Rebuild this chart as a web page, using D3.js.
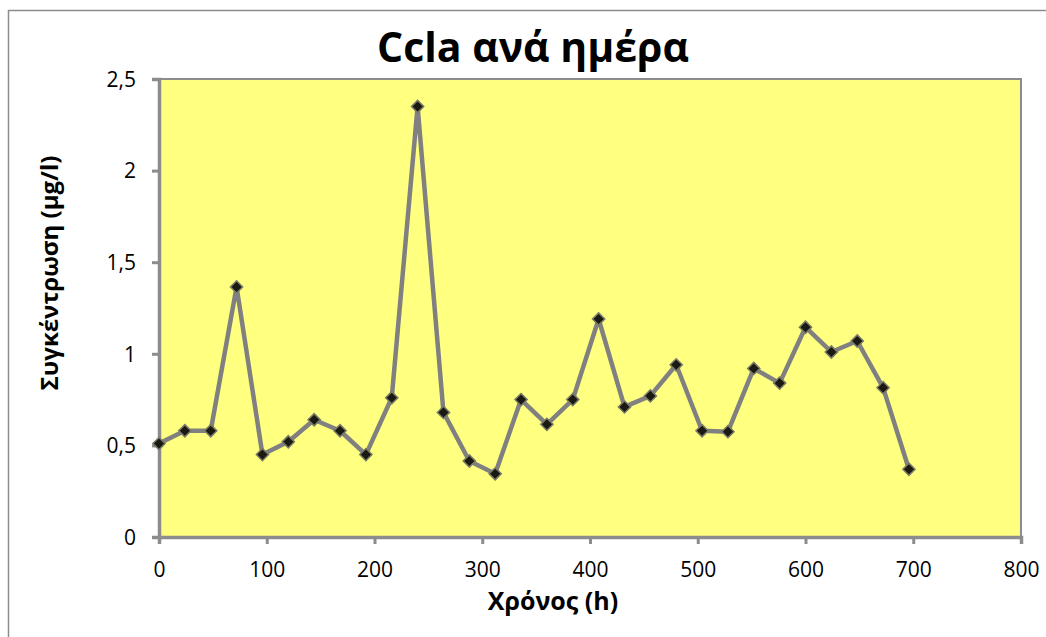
<!DOCTYPE html>
<html>
<head>
<meta charset="utf-8">
<script src="https://cdn.jsdelivr.net/npm/d3@7"></script>
<style>
  html, body { margin: 0; padding: 0; background: #ffffff; }
  svg { display: block; }
  text { font-family: "Open Sans", "Noto Sans", sans-serif; fill: #000; }
</style>
</head>
<body>
<svg id="chart" width="1046" height="637"></svg>
<script>
// Sampling times (h) and Ccla concentration (μg/l)
const hours = [0, 24, 48, 72, 96, 120, 144, 168, 192, 216, 240, 264, 288, 312, 336,
               360, 384, 408, 432, 456, 480, 504, 528, 552, 576, 600, 624, 648, 672, 696];
const ccla = [0.51, 0.58, 0.58, 1.365, 0.45, 0.52, 0.64, 0.58, 0.45, 0.76, 2.35, 0.68, 0.415, 0.345, 0.75,
              0.615, 0.75, 1.19, 0.71, 0.77, 0.94, 0.58, 0.575, 0.92, 0.84, 1.145, 1.01, 1.07, 0.815, 0.37];
const xTicks = [0, 100, 200, 300, 400, 500, 600, 700, 800];
const yTicks = [0, 0.5, 1, 1.5, 2, 2.5];

const titleText = "Ccla ανά ημέρα";
const xTitle = "Χρόνος (h)";
const yTitle = "Συγκέντρωση (μg/l)";

const svg = d3.select("#chart");
const plot = { left: 159, right: 1021, top: 79, bottom: 537 };

const x = d3.scaleLinear().domain([0, 800]).range([plot.left, plot.right]);
const y = d3.scaleLinear().domain([0, 2.5]).range([plot.bottom, plot.top]);

// Outer chart frame
svg.append("rect")
  .attr("x", 8.5).attr("y", 10.5)
  .attr("width", 1100).attr("height", 700)
  .attr("fill", "#fff").attr("stroke", "#8c8c8c").attr("stroke-width", 1.5);

// Plot area background
svg.append("rect")
  .attr("x", plot.left).attr("y", plot.top)
  .attr("width", plot.right - plot.left).attr("height", plot.bottom - plot.top)
  .attr("fill", "#ffff80")
  .attr("stroke", "#8c8c8c").attr("stroke-width", 2);

const fmt = d => d3.format("")(d).replace(".", ",");

// Axes
const xAxis = svg.append("g")
  .attr("transform", `translate(0,${plot.bottom})`)
  .call(d3.axisBottom(x).tickValues(xTicks).tickFormat(fmt).tickSize(7).tickPadding(17));
const yAxis = svg.append("g")
  .attr("transform", `translate(${plot.left},0)`)
  .call(d3.axisLeft(y).tickValues(yTicks).tickFormat(fmt).tickSize(7).tickPadding(16));

[xAxis, yAxis].forEach(g => {
  g.select(".domain").attr("stroke", "#8c8c8c").attr("stroke-width", 3.5);
  g.selectAll(".tick line").attr("stroke", "#8c8c8c").attr("stroke-width", 3);
  g.selectAll(".tick text").attr("font-size", 21).attr("fill", "#000")
    .style("font-family", "'Open Sans', 'Noto Sans', sans-serif");
});
yAxis.selectAll(".tick text").attr("dy", "0.35em");
xAxis.selectAll(".tick text").attr("dy", "0.75em");

// Series line
const line = d3.line().x((d, i) => x(hours[i])).y(d => y(d));
svg.append("path")
  .datum(ccla)
  .attr("d", line)
  .attr("fill", "none")
  .attr("stroke", "#808080")
  .attr("stroke-width", 4.5)
  .attr("stroke-linejoin", "round");

// Diamond markers
const diamond = d3.symbol().type(d3.symbolDiamond2).size(95);
svg.append("g").selectAll("path")
  .data(ccla)
  .join("path")
  .attr("d", diamond)
  .attr("transform", (d, i) => `translate(${x(hours[i])},${y(d)})`)
  .attr("fill", "#1a1a12")
  .attr("stroke", "#7a7a6a")
  .attr("stroke-width", 1.5);

// Titles
svg.append("text")
  .attr("x", 533).attr("y", 62)
  .attr("text-anchor", "middle")
  .attr("font-size", 41).attr("font-weight", "bold")
  .text(titleText);

svg.append("text")
  .attr("x", 553).attr("y", 610)
  .attr("text-anchor", "middle")
  .attr("font-size", 25).attr("font-weight", "bold")
  .text(xTitle);

svg.append("text")
  .attr("transform", "translate(58,273) rotate(-90)")
  .attr("text-anchor", "middle")
  .attr("font-size", 24).attr("font-weight", "bold")
  .text(yTitle);
</script>
</body>
</html>
